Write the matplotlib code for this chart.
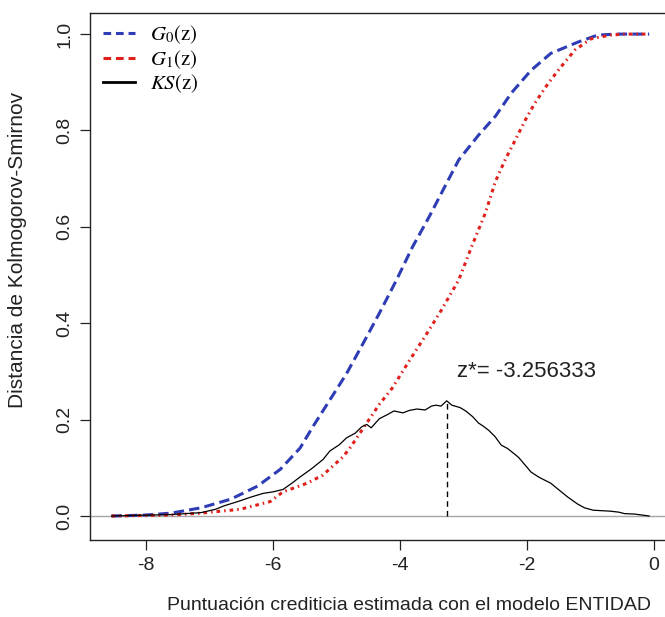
import matplotlib
matplotlib.use("Agg")
import matplotlib.pyplot as plt
from matplotlib.lines import Line2D

plt.rcParams['font.family'] = ['Liberation Sans', 'DejaVu Sans']
plt.rcParams['mathtext.fontset'] = 'stix'

# valores
z_g0 = [-8.54, -8.0, -7.6, -7.13, -6.66, -6.24, -5.88, -5.57, -5.37, -5.10, -4.84, -4.59,
        -4.32, -4.05, -3.80, -3.54, -3.26, -3.07, -2.76, -2.49, -2.24, -1.93, -1.62, -1.20,
        -0.88, -0.57, -0.07]
g0 = [0.0, 0.002, 0.006, 0.017, 0.035, 0.062, 0.097, 0.141, 0.185, 0.241, 0.295, 0.355,
      0.421, 0.49, 0.558, 0.62, 0.691, 0.739, 0.79, 0.830, 0.878, 0.925, 0.96, 0.983,
      0.998, 1.0, 1.0]

z_g1 = [-8.54, -7.6, -7.13, -6.51, -6.04, -5.84, -5.46, -5.21, -4.90, -4.79, -4.52, -4.32,
        -4.12, -3.85, -3.59, -3.34, -3.07, -2.87, -2.65, -2.49, -2.34, -2.18, -2.02, -1.87,
        -1.66, -1.46, -1.24, -0.99, -0.68, -0.46, -0.07]
g1 = [0.0, 0.002, 0.006, 0.014, 0.030, 0.05, 0.068, 0.085, 0.122, 0.14, 0.193, 0.232,
      0.265, 0.322, 0.375, 0.428, 0.49, 0.558, 0.629, 0.695, 0.739, 0.78, 0.822, 0.857,
      0.898, 0.932, 0.967, 0.99, 0.998, 1.0, 1.0]

z_ks = [-8.54, -7.6, -7.13, -6.9, -6.77, -6.55, -6.35, -6.15, -6.0, -5.84, -5.70, -5.57,
        -5.40, -5.21, -5.10, -4.95, -4.84, -4.70, -4.60, -4.52, -4.45, -4.32, -4.20, -4.09,
        -3.95, -3.85, -3.73, -3.60, -3.50, -3.43, -3.35, -3.26, -3.18, -3.05, -2.96, -2.85,
        -2.76, -2.68, -2.60, -2.50, -2.40, -2.30, -2.13, -2.02, -1.93, -1.80, -1.62, -1.50,
        -1.35, -1.20, -1.09, -0.95, -0.68, -0.55, -0.46, -0.30, -0.07]
ks = [0.0, 0.003, 0.007, 0.014, 0.021, 0.03, 0.039, 0.047, 0.05, 0.055, 0.068, 0.081,
      0.097, 0.117, 0.135, 0.148, 0.162, 0.172, 0.185, 0.190, 0.183, 0.202, 0.210, 0.218,
      0.214, 0.219, 0.222, 0.220, 0.228, 0.230, 0.228, 0.239, 0.230, 0.225, 0.218, 0.206,
      0.193, 0.186, 0.178, 0.165, 0.147, 0.140, 0.122, 0.105, 0.091, 0.080, 0.068, 0.055,
      0.039, 0.025, 0.017, 0.012, 0.010, 0.008, 0.005, 0.004, 0.0]

z_opt = -3.256333
ks_max = 0.239

azul = '#2E3DB5'
rojo = '#E0201B'

fig = plt.figure(figsize=(6.65, 6.17), dpi=100)
ax = fig.add_axes([0.1353, 0.1248, 0.881, 0.854])

ax.axhline(0, color='0.65', lw=1.0, zorder=1)
ax.plot(z_g0, g0, color=azul, lw=2.2, dashes=(3.4, 1.7))
ax.plot(z_g1, g1, color=rojo, lw=2.2, dashes=(1.2, 1.3, 0.5, 1.3))
ax.plot(z_ks, ks, color='black', lw=0.9)
ax.plot([z_opt, z_opt], [0, ks_max], color='black', lw=1.0, dashes=(4, 3))
ax.text(-2.0, 0.299, 'z*= -3.256333', fontsize=16, ha='center', va='center', color='#222222')

ax.set_xlim(-8.88, 0.35)
ax.set_ylim(-0.0498, 1.0436)
ax.set_xticks([-8, -6, -4, -2, 0])
ax.set_yticks([0.0, 0.2, 0.4, 0.6, 0.8, 1.0])
ax.set_xticklabels(['-8', '-6', '-4', '-2', '0'])
ax.set_yticklabels(['0.0', '0.2', '0.4', '0.6', '0.8', '1.0'], rotation=90, va='center')
ax.tick_params(length=7, width=0.9, labelsize=14, pad=5, colors='#222222')
for s in ax.spines.values():
    s.set_linewidth(1.0)
    s.set_color('#222222')

fig.text(409 / 665, 1 - 605 / 617, 'Puntuación crediticia estimada con el modelo ENTIDAD',
         fontsize=14, ha='center', va='center', color='#222222')
fig.text(18 / 665, 1 - 250 / 617, 'Distancia de Kolmogorov-Smirnov',
         fontsize=15, ha='center', va='center', rotation=90, color='#222222')

handles = [Line2D([], [], color=azul, lw=2.2, dashes=(2.5, 1.6)),
           Line2D([], [], color=rojo, lw=2.2, dashes=(2.5, 1.6)),
           Line2D([], [], color='black', lw=2.0)]
labels = [r'$G_0(\mathrm{z})$', r'$G_1(\mathrm{z})$', r'$KS(\mathrm{z})$']
ax.legend(handles, labels, loc='upper left', bbox_to_anchor=(0.022, 0.98), frameon=False,
          fontsize=15, handlelength=1.55, handletextpad=0.7, labelspacing=0.08,
          borderpad=0, borderaxespad=0)

fig.savefig('out.png', dpi=100)
